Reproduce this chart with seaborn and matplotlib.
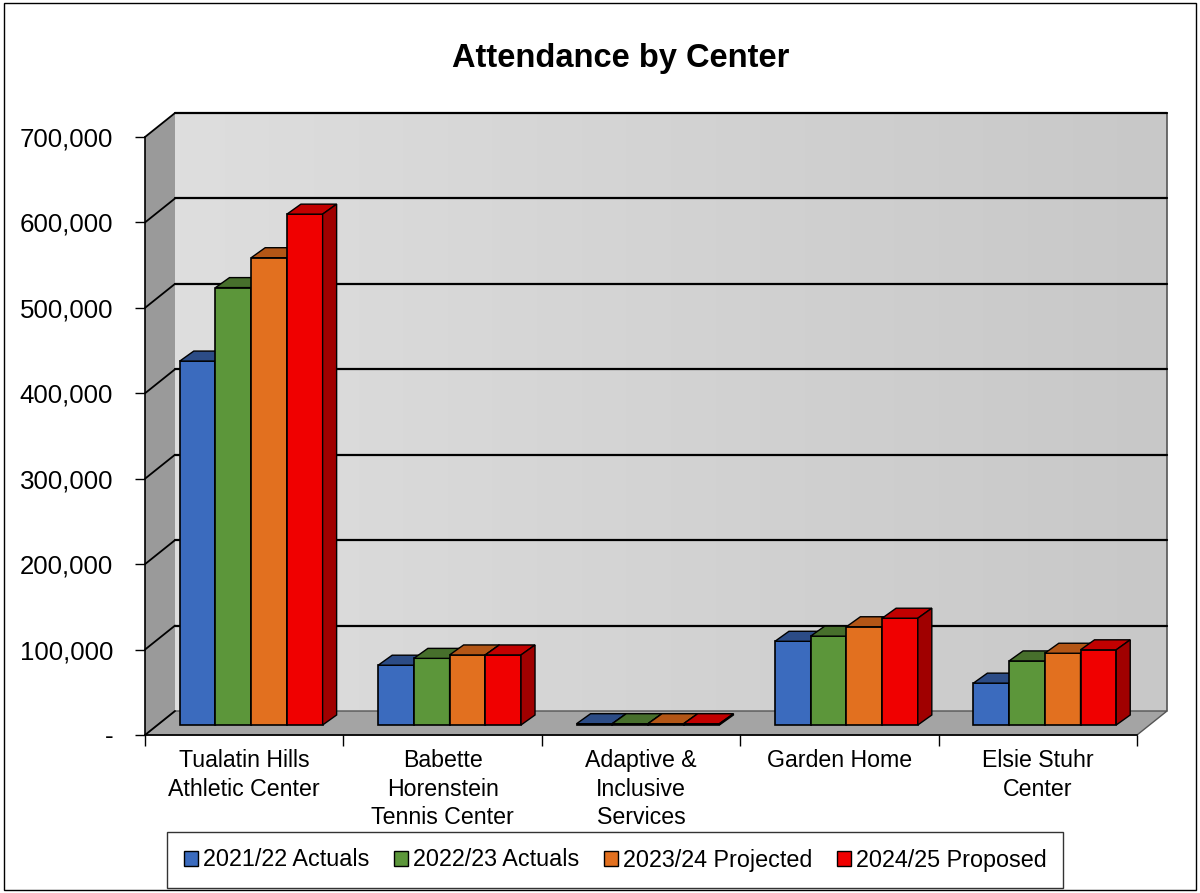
import numpy as np
import pandas as pd
import matplotlib
matplotlib.use("Agg")
import matplotlib.pyplot as plt
import seaborn as sns
from matplotlib.patches import Polygon, Patch, Rectangle
from matplotlib.transforms import ScaledTranslation, IdentityTransform
from matplotlib.colors import LinearSegmentedColormap

# Data
centers = ["Tualatin Hills\nAthletic Center", "Babette\nHorenstein\nTennis Center",
           "Adaptive &\nInclusive\nServices", "Garden Home", "Elsie Stuhr\nCenter"]
years = ["2021/22 Actuals", "2022/23 Actuals", "2023/24 Projected", "2024/25 Proposed"]
actual_2122 = [426000, 70000, 1500, 98000, 49000]
actual_2223 = [512000, 78000, 1500, 104000, 75000]
projected_2324 = [547000, 82000, 1500, 115000, 84000]
proposed_2425 = [598000, 82000, 1500, 125000, 88000]
yticks = [0, 100000, 200000, 300000, 400000, 500000, 600000, 700000]

front_colors = ["#3B6BBE", "#5C963A", "#E2701F", "#F00000"]
top_colors = ["#2C4C86", "#476F2C", "#B35616", "#C20000"]
side_colors = ["#27467C", "#3D6325", "#A24C10", "#A00000"]

df = pd.DataFrame({"center": centers * 4,
                   "year": np.repeat(years, len(centers)),
                   "attendance": actual_2122 + actual_2223 + projected_2324 + proposed_2425})

sns.set_style("white")
plt.rcParams["font.family"] = ["Liberation Sans", "DejaVu Sans"]
plt.rcParams["text.color"] = "black"
plt.rcParams["xtick.color"] = "black"
plt.rcParams["ytick.color"] = "black"
plt.rcParams["xtick.labelcolor"] = "black"
plt.rcParams["ytick.labelcolor"] = "black"

W, H = 1200, 893
fig = plt.figure(figsize=(12, 8.93), dpi=100)

# background layer in pixel coords (3D walls)
bg = fig.add_axes([0, 0, 1, 1])
bg.set_xlim(0, W)
bg.set_ylim(H, 0)
bg.axis("off")
bg.set_zorder(0)

# front plane geometry
fx0, fx1, fy0, fy1 = 145, 1137, 735, 137
ddx, ddy = 30, 24

ax = fig.add_axes([fx0 / W, 1 - fy0 / H, (fx1 - fx0) / W, (fy0 - fy1) / H])
ax.set_zorder(1)
ax.set_facecolor("none")

# back wall gradient
wall_cmap = LinearSegmentedColormap.from_list("wall", ["#DEDEDE", "#C8C8C8"])
bg.imshow(np.linspace(0, 1, 200)[None, :], cmap=wall_cmap, aspect="auto",
          extent=[fx0 + ddx, fx1 + ddx, fy0 - ddy, fy1 - ddy], zorder=1)
# left side wall
bg.add_patch(Polygon([(fx0, fy1), (fx0 + ddx, fy1 - ddy), (fx0 + ddx, fy0 - ddy), (fx0, fy0)],
                     closed=True, facecolor="#9A9A9A", edgecolor="none", zorder=2))
# floor
bg.add_patch(Polygon([(fx0, fy0), (fx0 + ddx, fy0 - ddy), (fx1 + ddx, fy0 - ddy), (fx1, fy0)],
                     closed=True, facecolor="#A4A4A4", edgecolor="#555555", lw=1, zorder=2))
# wall right edge
bg.plot([fx1 + ddx, fx1 + ddx], [fy1 - ddy, fy0 - ddy], color="#555555", lw=1.2, zorder=3)

# gridlines on back wall and left wall
for v in yticks:
    yf = fy0 - v / yticks[-1] * (fy0 - fy1)
    yb = yf - ddy
    if v > 0:
        bg.plot([fx0 + ddx, fx1 + ddx], [yb, yb], color="black", lw=1.6, zorder=3)
    bg.plot([fx0, fx0 + ddx], [yf, yb], color="black", lw=1.3, zorder=3)

# bars
sns.barplot(data=df, x="center", y="attendance", hue="year", palette=front_colors,
            width=0.72, saturation=1, edgecolor="black", linewidth=1.2,
            legend=False, ax=ax)
ax.set_ylim(0, yticks[-1])
ax.set_xlim(-0.5, len(centers) - 0.5)

# bars sit at mid depth: shift them up/right, then add top and side faces
shift = ax.transData + ScaledTranslation(0.07, 0.10, fig.dpi_scale_trans)
bdx, bdy = 14, 10
for h, cont in enumerate(ax.containers):
    for bar in cont:
        bar.set_transform(shift)
        bar.set_clip_on(False)
        bar.set_zorder(2 + h * 0.1)
        x0, y0, bw, bh = bar.get_x(), bar.get_y(), bar.get_width(), bar.get_height()
        p0 = np.array(shift.transform((x0, y0 + bh)))
        p1 = np.array(shift.transform((x0 + bw, y0 + bh)))
        pb = np.array(shift.transform((x0 + bw, y0)))
        d = np.array([bdx, bdy])
        top = Polygon([p0, p1, p1 + d, p0 + d], closed=True, transform=IdentityTransform(),
                      facecolor=top_colors[h], edgecolor="black", lw=1, clip_on=False,
                      zorder=2 + h * 0.1)
        side = Polygon([p1, pb, pb + d, p1 + d], closed=True, transform=IdentityTransform(),
                       facecolor=side_colors[h], edgecolor="black", lw=1, clip_on=False,
                       zorder=2 + h * 0.1)
        ax.add_patch(top)
        ax.add_patch(side)

# axes styling
for s in ["top", "right"]:
    ax.spines[s].set_visible(False)
for s in ["left", "bottom"]:
    ax.spines[s].set_color("black")
    ax.spines[s].set_linewidth(1.2)
ax.set_yticks(yticks)
ax.set_yticklabels(["-"] + [f"{v:,}" for v in yticks[1:]], fontsize=18.6)
ax.tick_params(axis="y", length=7, width=1, color="black", pad=16, left=True)
ax.set_xticks(range(len(centers)))
ax.set_xticklabels(centers, fontsize=16.7, linespacing=1.32)
ax.tick_params(axis="x", which="major", length=0, pad=10)
ax.set_xticks(np.arange(-0.5, len(centers)), minor=True)
ax.tick_params(axis="x", which="minor", length=8, width=1, color="black", bottom=True)
ax.set_xlabel("")
ax.set_ylabel("")
ax.grid(False)

fig.text(621 / W, 1 - 58 / H, "Attendance by Center", ha="center", va="center",
         fontsize=23.5, fontweight="bold", color="black")

handles = [Patch(facecolor=c, edgecolor="black", lw=1) for c in front_colors]
leg = fig.legend(handles, years, loc="center", bbox_to_anchor=(615 / W, 1 - 860 / H),
                 ncol=4, fontsize=16.8, frameon=True, fancybox=False,
                 handlelength=0.62, handleheight=0.62, handletextpad=0.2,
                 columnspacing=1.05, borderpad=0.7)
leg.get_frame().set_edgecolor("black")
leg.get_frame().set_linewidth(1)
for t in leg.get_texts():
    t.set_color("black")

fig.patches.append(Rectangle((0.003, 0.003), 0.994, 0.994, transform=fig.transFigure,
                             fill=False, edgecolor="black", lw=1))

fig.savefig("out.png", dpi=100)
